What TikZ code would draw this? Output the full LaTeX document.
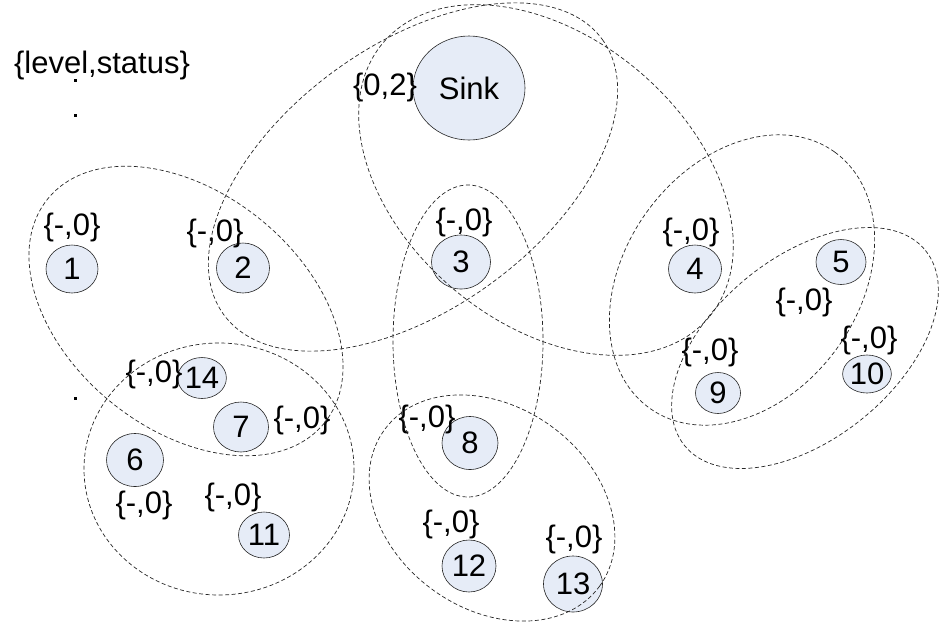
\documentclass[tikz,border=0pt]{standalone}
\usepackage{fontspec}
\setmainfont{Liberation Sans}
\usetikzlibrary{shapes.geometric}
\definecolor{nodeblue}{RGB}{230,236,247}

\begin{document}
\begin{tikzpicture}[x=1pt, y=-1pt,
    every node/.style={font=\fontsize{31}{36}\selectfont},
    sensor/.style={ellipse, draw=black!85, line width=0.6pt, fill=nodeblue, inner sep=0pt},
    tag/.style={inner sep=0pt},
    cluster/.style={draw=black!85, line width=0.7pt, dash pattern=on 4pt off 2.5pt}]
    \useasboundingbox (0,0) rectangle (940,625);

    % Legend
    \node[tag] (legend) at (102,65) {\{level,status\}};
    \fill (73.5,78.5) rectangle (76.5,81.5);
    \fill (73.5,113.5) rectangle (76.5,116.5);
    \fill (73.5,396.5) rectangle (76.5,399.5);

    % Sink and sensors
    \node[sensor, minimum width=112, minimum height=104] (sink) at (469,88) {Sink};
    \node[sensor, minimum width=52, minimum height=48] (n1) at (72,269) {1};
    \node[sensor, minimum width=53, minimum height=50] (n2) at (243,268) {2};
    \node[sensor, minimum width=59, minimum height=54] (n3) at (461,262) {3};
    \node[sensor, minimum width=53, minimum height=48] (n4) at (695,269) {4};
    \node[sensor, minimum width=50, minimum height=45] (n5) at (841,262) {5};
    \node[sensor, minimum width=57, minimum height=53] (n6) at (135,460) {6};
    \node[sensor, minimum width=55, minimum height=50] (n7) at (241,427) {7};
    \node[sensor, minimum width=56, minimum height=53] (n8) at (470,443) {8};
    \node[sensor, minimum width=45, minimum height=41] (n9) at (718,393) {9};
    \node[sensor, minimum width=41, minimum height=38] (n10) at (867,374) {10};
    \node[sensor, minimum width=51, minimum height=46] (n11) at (264,535) {11};
    \node[sensor, minimum width=54, minimum height=52] (n12) at (469,566) {12};
    \node[sensor, minimum width=59, minimum height=56] (n13) at (573,584) {13};
    \node[sensor, minimum width=44, minimum height=41] (n14) at (202,378) {14};

    % Level and status
    \node[tag] (lsink) at (385,87) {\{0,2\}};
    \node[tag] (l1) at (72,227.5) {\{-,0\}};
    \node[tag] (l2) at (215,233) {\{-,0\}};
    \node[tag] (l3) at (464,222) {\{-,0\}};
    \node[tag] (l4) at (691,232.5) {\{-,0\}};
    \node[tag] (l5) at (804,302.5) {\{-,0\}};
    \node[tag] (l6) at (144,505) {\{-,0\}};
    \node[tag] (l7) at (302,420) {\{-,0\}};
    \node[tag] (l8) at (427,419) {\{-,0\}};
    \node[tag] (l9) at (710,352.5) {\{-,0\}};
    \node[tag] (l10) at (869,340) {\{-,0\}};
    \node[tag] (l11) at (233,497) {\{-,0\}};
    \node[tag] (l12) at (451,524) {\{-,0\}};
    \node[tag] (l13) at (574,539) {\{-,0\}};
    \node[tag] (l14) at (154,374) {\{-,0\}};

    % Clusters
    \draw[cluster, rotate around={-39:(186,311)}] (186,311) ellipse [x radius=178, y radius=118];
    \draw[cluster, rotate around={36:(413,177)}] (413,177) ellipse [x radius=234, y radius=132];
    \draw[cluster, rotate around={-40:(546,180)}] (546,180) ellipse [x radius=213, y radius=143];
    \draw[cluster] (468,341) ellipse [x radius=75, y radius=156];
    \draw[cluster] (219,469) ellipse [x radius=135, y radius=126];
    \draw[cluster, rotate around={-36:(492,508)}] (492,508) ellipse [x radius=133, y radius=101];
    \draw[cluster, rotate around={54:(742,280)}] (742,280) ellipse [x radius=158, y radius=117];
    \draw[cluster, rotate around={39:(805,348)}] (805,348) ellipse [x radius=155, y radius=91];

\end{tikzpicture}
\end{document}
